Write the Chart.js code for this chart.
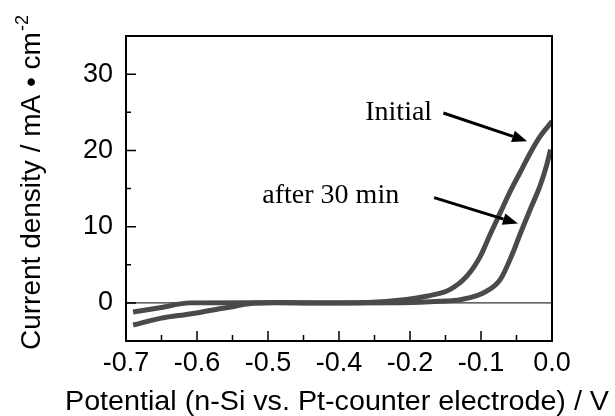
<!DOCTYPE html>
<html>
<head>
<meta charset="utf-8">
<script src="https://cdn.jsdelivr.net/npm/chart.js@4.4.1/dist/chart.umd.min.js"></script>
<style>
  html, body { margin: 0; padding: 0; background: #fff; }
  #wrap { width: 615px; height: 416px; }
</style>
</head>
<body>
<div id="wrap"><canvas id="chart" width="615" height="416"></canvas></div>
<script>
// The x-axis labels in the original skip "-0.3",
// so the ticks are placed every 0.1 from the right and labelled as printed.
const initialPotential = [-0.59, -0.55, -0.51, -0.47, -0.45, -0.43, -0.39, -0.34, -0.26, -0.205, -0.177, -0.144, -0.12, -0.101, -0.087, -0.073, -0.059, -0.045, -0.031, -0.017, 0];
const initialCurrent = [-2.9, -2.0, -1.45, -0.8, -0.5, -0.15, 0.05, 0.0, 0.05, 0.43, 0.87, 1.74, 3.5, 6.1, 9.0, 11.8, 14.6, 17.1, 19.6, 21.8, 23.8];

const afterPotential = [-0.59, -0.55, -0.51, -0.4, -0.3, -0.21, -0.158, -0.129, -0.097, -0.073, -0.055, -0.045, -0.03, -0.017, -0.008, -0.002];
const afterCurrent = [-1.2, -0.6, 0.0, 0.02, 0.0, 0.02, 0.2, 0.43, 1.3, 3.05, 6.6, 9.0, 12.4, 15.3, 17.9, 20.1];

const xTickValues = [-0.6, -0.5, -0.4, -0.3, -0.2, -0.1, 0.0];
const xTickLabels = ['-0.7', '-0.6', '-0.5', '-0.4', '-0.2', '-0.1', '0.0'];
const xMinorTicks = [-0.55, -0.45, -0.35, -0.25, -0.15, -0.05];
const yTickValues = [0, 10, 20, 30];
const yMinorTicks = [5, 15, 25];

const sans = '"Liberation Sans", Arial, sans-serif';
const serif = '"Liberation Serif", "Times New Roman", serif';
const curveColor = '#4a4a4a';

const toPoints = (xs, ys) => xs.map((x, i) => ({ x: x, y: ys[i] }));

// frame, inward ticks, zero line, axis titles and the two arrow notes
const decorations = {
  id: 'decorations',
  beforeDatasetsDraw(chart) {
    const { ctx, chartArea, scales } = chart;
    const y0 = scales.y.getPixelForValue(0);
    ctx.save();
    ctx.strokeStyle = '#333';
    ctx.lineWidth = 1.2;
    ctx.beginPath();
    ctx.moveTo(chartArea.left, y0);
    ctx.lineTo(chartArea.right, y0);
    ctx.stroke();
    ctx.restore();
  },
  afterDraw(chart) {
    const { ctx, chartArea: a, scales } = chart;
    const x = scales.x, y = scales.y;
    ctx.save();
    ctx.strokeStyle = '#000';
    ctx.lineWidth = 2;
    ctx.strokeRect(a.left, a.top, a.right - a.left, a.bottom - a.top);

    ctx.lineWidth = 1.5;
    ctx.beginPath();
    xTickValues.slice(1, -1).forEach(v => {
      const px = x.getPixelForValue(v);
      ctx.moveTo(px, a.bottom); ctx.lineTo(px, a.bottom - 10);
    });
    xMinorTicks.forEach(v => {
      const px = x.getPixelForValue(v);
      ctx.moveTo(px, a.bottom); ctx.lineTo(px, a.bottom - 6);
    });
    yTickValues.forEach(v => {
      const py = y.getPixelForValue(v);
      ctx.moveTo(a.left, py); ctx.lineTo(a.left + 10, py);
    });
    yMinorTicks.forEach(v => {
      const py = y.getPixelForValue(v);
      ctx.moveTo(a.left, py); ctx.lineTo(a.left + 5, py);
    });
    ctx.stroke();

    // axis titles
    ctx.fillStyle = '#000';
    ctx.textBaseline = 'alphabetic';
    ctx.font = '27px ' + sans;
    const xTitle = 'Potential (n-Si vs. Pt-counter electrode) / V';
    const w = ctx.measureText(xTitle).width;
    ctx.save();
    ctx.translate(65, 410);
    ctx.scale(544 / w, 1);
    ctx.textAlign = 'left';
    ctx.fillText(xTitle, 0, 0);
    ctx.restore();

    ctx.save();
    ctx.translate(40, 350);
    ctx.rotate(-Math.PI / 2);
    ctx.textAlign = 'left';
    ctx.font = '28px ' + sans;
    const yTitle = 'Current density / mA \u2022 cm';
    ctx.fillText(yTitle, 0, 0);
    const tw = ctx.measureText(yTitle).width;
    ctx.font = '18px ' + sans;
    ctx.fillText('-2', tw + 1, -12);
    ctx.restore();

    // notes with arrows
    ctx.font = '28px ' + serif;
    ctx.textAlign = 'left';
    ctx.fillText('Initial', x.getPixelForValue(-0.263), y.getPixelForValue(23.95));
    ctx.fillText('after 30 min', x.getPixelForValue(-0.408), y.getPixelForValue(13.1));
    drawArrow(ctx, x.getPixelForValue(-0.153), y.getPixelForValue(24.9), x.getPixelForValue(-0.035), y.getPixelForValue(21.2));
    drawArrow(ctx, x.getPixelForValue(-0.166), y.getPixelForValue(13.8), x.getPixelForValue(-0.048), y.getPixelForValue(10.4));
    ctx.restore();
  }
};

function drawArrow(ctx, x1, y1, x2, y2) {
  const ang = Math.atan2(y2 - y1, x2 - x1);
  const len = 15, half = 6;
  const bx = x2 - len * Math.cos(ang), by = y2 - len * Math.sin(ang);
  ctx.save();
  ctx.strokeStyle = '#000';
  ctx.fillStyle = '#000';
  ctx.lineWidth = 3;
  ctx.beginPath();
  ctx.moveTo(x1, y1);
  ctx.lineTo(bx, by);
  ctx.stroke();
  ctx.beginPath();
  ctx.moveTo(x2, y2);
  ctx.lineTo(bx + half * Math.sin(ang), by - half * Math.cos(ang));
  ctx.lineTo(bx - half * Math.sin(ang), by + half * Math.cos(ang));
  ctx.closePath();
  ctx.fill();
  ctx.restore();
}

new Chart(document.getElementById('chart').getContext('2d'), {
  type: 'line',
  data: {
    datasets: [
      {
        label: 'Initial',
        data: toPoints(initialPotential, initialCurrent),
        borderColor: curveColor,
        borderWidth: 5,
        pointRadius: 0,
        cubicInterpolationMode: 'monotone',
        fill: false
      },
      {
        label: 'after 30 min',
        data: toPoints(afterPotential, afterCurrent),
        borderColor: curveColor,
        borderWidth: 5,
        pointRadius: 0,
        cubicInterpolationMode: 'monotone',
        fill: false
      }
    ]
  },
  options: {
    responsive: false,
    animation: false,
    layout: { padding: { top: 36, right: 63, left: 0, bottom: 0 } },
    plugins: { legend: { display: false }, tooltip: { enabled: false } },
    scales: {
      x: {
        type: 'linear',
        min: -0.6,
        max: 0,
        afterBuildTicks: s => { s.ticks = xTickValues.map(v => ({ value: v })); },
        afterFit: s => { s.height = 75; },
        grid: { display: false, drawTicks: false },
        border: { display: false },
        ticks: {
          color: '#000',
          font: { family: sans, size: 27 },
          padding: 6,
          maxRotation: 0,
          autoSkip: false,
          callback: (v, i) => xTickLabels[i]
        }
      },
      y: {
        min: -5,
        max: 35,
        afterBuildTicks: s => { s.ticks = yTickValues.map(v => ({ value: v })); },
        afterFit: s => { s.width = 126; },
        grid: { display: false, drawTicks: false },
        border: { display: false },
        ticks: {
          color: '#000',
          font: { family: sans, size: 27 },
          padding: 13
        }
      }
    }
  },
  plugins: [decorations]
});
</script>
</body>
</html>
